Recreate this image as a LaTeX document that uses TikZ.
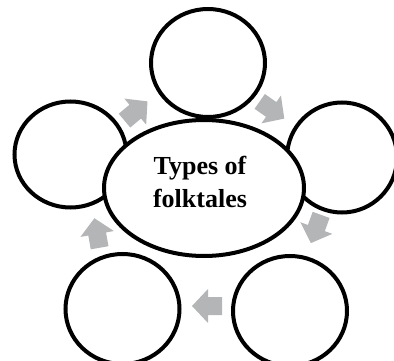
\documentclass[tikz,border=0pt]{standalone}
\usepackage{fontspec}
\setmainfont{Liberation Serif}
\definecolor{arrowgray}{RGB}{180,181,183}
\tikzset{
  ring/.style={draw=black, line width=4pt, fill=white},
  blockarrow/.style={fill=arrowgray, draw=none},
}
\newcommand{\blockarr}[3]{%
  \fill[blockarrow, shift={(#1,#2)}, rotate=#3]
    (-15,-9) -- (-1,-9) -- (-1,-17) -- (15,0) -- (-1,17) -- (-1,9) -- (-15,9) -- cycle;}
\begin{document}
\begin{tikzpicture}[x=1pt,y=-1pt]
\useasboundingbox (0,0) rectangle (394,361);
\clip (0,0) rectangle (394,361);
% outer circles
\draw[ring] (208,63) ellipse [x radius=57, y radius=54];
\draw[ring] (342,157.5) ellipse [x radius=55, y radius=55];
\draw[ring] (70.5,154.5) ellipse [x radius=56, y radius=53];
\draw[ring] (122.5,309) ellipse [x radius=57, y radius=55];
\draw[ring] (290,311) ellipse [x radius=57, y radius=55];
% central ellipse
\draw[ring] (204,188) ellipse [x radius=100, y radius=68];
\node[font=\bfseries\fontsize{26}{33}\selectfont, align=center, inner sep=0pt] (center) at (200,182) {Types of\\folktales};
% arrows (rotation is in page coordinates: counter-clockwise positive)
\blockarr{136}{111}{40}
\blockarr{272}{110}{-35}
\blockarr{316}{229}{-110}
\blockarr{207}{306}{180}
\blockarr{97}{233}{100}
\end{tikzpicture}
\end{document}
